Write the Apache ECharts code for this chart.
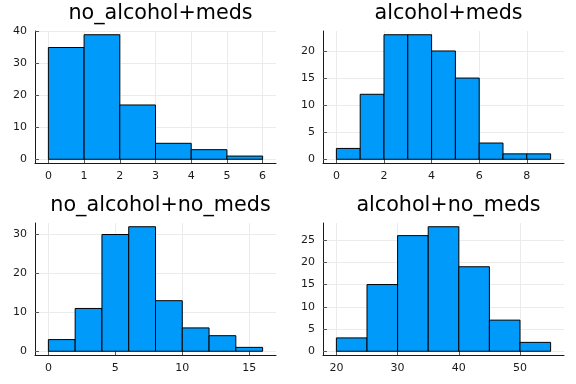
<!DOCTYPE html>
<html>
<head>
<meta charset="utf-8">
<script src="https://cdn.jsdelivr.net/npm/echarts@6/dist/echarts.min.js"></script>
<style>
html,body{margin:0;padding:0;background:#fff;}
#chart{width:576px;height:384px;}
</style>
</head>
<body>
<div id="chart"></div>
<script>
// ---- data ----
const titles = ['no_alcohol+meds', 'alcohol+meds', 'no_alcohol+no_meds', 'alcohol+no_meds'];

const edges1 = [0, 1, 2, 3, 4, 5, 6];
const counts1 = [35, 39, 17, 5, 3, 1];
const edges2 = [0, 1, 2, 3, 4, 5, 6, 7, 8, 9];
const counts2 = [2, 12, 23, 23, 20, 15, 3, 1, 1];
const edges3 = [0, 2, 4, 6, 8, 10, 12, 14, 16];
const counts3 = [3, 11, 30, 32, 13, 6, 4, 1];
const edges4 = [20, 25, 30, 35, 40, 45, 50, 55];
const counts4 = [3, 15, 26, 28, 19, 7, 2];

const xTicks1 = [0, 1, 2, 3, 4, 5, 6];
const yTicks1 = [0, 10, 20, 30, 40];
const xTicks2 = [0, 2, 4, 6, 8];
const yTicks2 = [0, 5, 10, 15, 20];
const xTicks3 = [0, 5, 10, 15];
const yTicks3 = [0, 10, 20, 30];
const xTicks4 = [20, 30, 40, 50];
const yTicks4 = [0, 5, 10, 15, 20, 25];

// ---- layout ----
const panels = [
  {edges: edges1, counts: counts1, xt: xTicks1, yt: yTicks1, left: 35, top: 31},
  {edges: edges2, counts: counts2, xt: xTicks2, yt: yTicks2, left: 323, top: 31},
  {edges: edges3, counts: counts3, xt: xTicks3, yt: yTicks3, left: 35, top: 223},
  {edges: edges4, counts: counts4, xt: xTicks4, yt: yTicks4, left: 323, top: 223}
];
const GW = 241, GH = 132;
const XPAD = 0.0625, YPAD = 0.03;
const FONT = 'DejaVu Sans';
const AXC = '#1a1a1a';
const GRIDC = '#ebebeb';

const option = {
  backgroundColor: '#ffffff',
  animation: false,
  title: [],
  grid: [],
  xAxis: [],
  yAxis: [],
  series: []
};

panels.forEach((p, i) => {
  const e0 = p.edges[0], e1 = p.edges[p.edges.length - 1];
  const span = e1 - e0;
  const ymax = Math.max(...p.counts);
  option.grid.push({left: p.left, top: p.top, width: GW, height: GH, containLabel: false});
  option.title.push({
    text: titles[i],
    left: p.left + GW / 2,
    top: p.top - 33,
    textAlign: 'center',
    textStyle: {fontFamily: FONT, fontSize: 20.7, fontWeight: 'normal', color: '#000'}
  });
  option.xAxis.push({
    type: 'value', gridIndex: i,
    min: e0 - XPAD * span, max: e1 + XPAD * span,
    axisLine: {show: true, onZero: false, lineStyle: {color: AXC, width: 1}},
    axisTick: {show: true, inside: true, length: 4, customValues: p.xt, lineStyle: {color: '#555'}},
    axisLabel: {customValues: p.xt, margin: 8, fontFamily: FONT, fontSize: 11, color: AXC,
                formatter: v => String(Math.round(v))},
    splitLine: {show: true, lineStyle: {color: GRIDC, width: 1}}
  });
  option.yAxis.push({
    type: 'value', gridIndex: i,
    min: -YPAD * ymax, max: ymax * (1 + YPAD),
    axisLine: {show: true, onZero: false, lineStyle: {color: AXC, width: 1}},
    axisTick: {show: true, inside: true, length: 4, customValues: p.yt, lineStyle: {color: '#555'}},
    axisLabel: {customValues: p.yt, margin: 8, fontFamily: FONT, fontSize: 11, color: AXC,
                formatter: v => String(Math.round(v))},
    splitLine: {show: true, lineStyle: {color: GRIDC, width: 1}}
  });
  const data = p.counts.map((c, k) => [p.edges[k], p.edges[k + 1], c]);
  option.series.push({
    type: 'custom', xAxisIndex: i, yAxisIndex: i,
    data: data,
    encode: {x: [0, 1], y: 2},
    renderItem: function (params, api) {
      const a = api.coord([api.value(0), 0]);
      const b = api.coord([api.value(1), api.value(2)]);
      return {
        type: 'rect',
        shape: {x: a[0], y: b[1], width: b[0] - a[0], height: a[1] - b[1]},
        style: {fill: '#009AFA', stroke: '#000', lineWidth: 1}
      };
    }
  });
});

const chart = echarts.init(document.getElementById('chart'), null, {renderer: 'canvas'});
chart.setOption(option);
</script>
</body>
</html>
